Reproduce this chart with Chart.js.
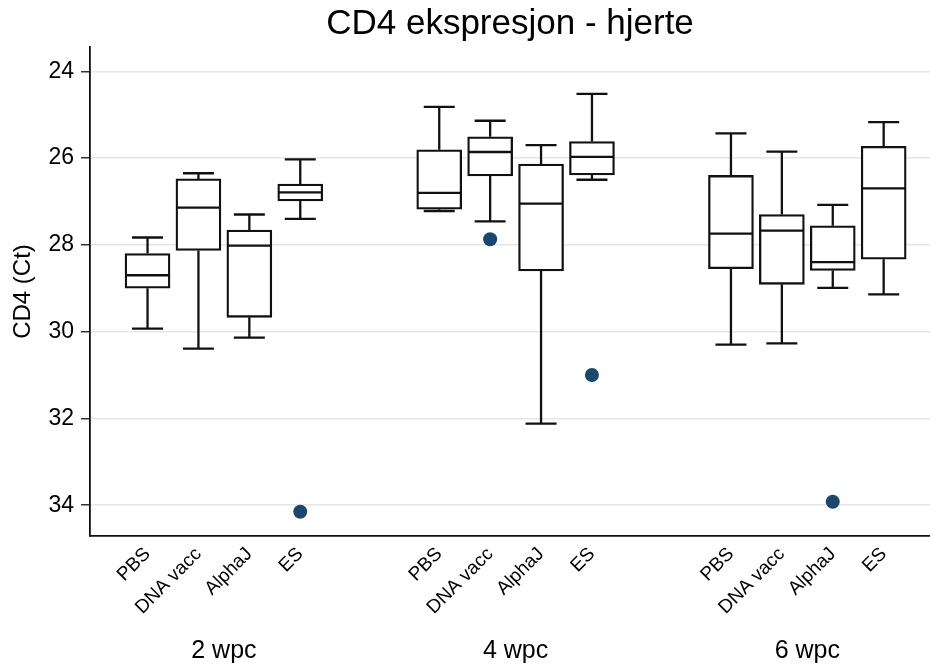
<!DOCTYPE html>
<html>
<head>
<meta charset="utf-8">
<title>CD4 ekspresjon - hjerte</title>
<script src="https://cdn.jsdelivr.net/npm/chart.js@4.4.1/dist/chart.umd.min.js"></script>
<style>
  html, body { margin: 0; padding: 0; background: #fff; }
  canvas { display: block; }
</style>
</head>
<body>
<canvas id="chart" width="930" height="668"></canvas>
<script>
// one box per treatment, listed week by week
const groups = ['2 wpc', '4 wpc', '6 wpc'];
const treatments = ['PBS', 'DNA vacc', 'AlphaJ', 'ES'];

const whiskerLow  = [27.83, 26.35, 27.30, 26.03,  24.82, 25.14, 25.70, 24.52,  25.43, 25.85, 27.08, 25.17];
const q1          = [28.20, 26.48, 27.66, 26.60,  25.81, 25.51, 26.14, 25.62,  26.40, 27.30, 27.56, 25.73];
const median      = [28.70, 27.14, 28.02, 26.79,  26.80, 25.86, 27.05, 25.97,  27.74, 27.67, 28.40, 26.70];
const q3          = [29.00, 28.13, 29.67, 26.99,  27.18, 26.41, 28.60, 26.39,  28.55, 28.91, 28.59, 28.33];
const whiskerHigh = [29.93, 30.39, 30.14, 27.40,  27.22, 27.46, 32.12, 26.50,  30.30, 30.27, 28.99, 29.14];
const outliers    = [[], [], [], [34.15],  [], [27.87], [], [31.00],  [], [], [33.92], []];

const yTicks = [24, 26, 28, 30, 32, 34];

// layout
const GROUP_STEP = 5.73;
const BOX_WIDTH = 45;
const CAP_HALF = 15.5;
const LINE = 2.3;
const INK = '#111';
const FONT = "'Liberation Sans', Arial, Helvetica, sans-serif";

const positions = median.map((_, i) => Math.floor(i / treatments.length) * GROUP_STEP + i % treatments.length);
const groupCenters = groups.map((_, g) => g * GROUP_STEP + (treatments.length - 1) / 2);

const boxData = positions.map((p, i) => ({ x: p, y: [q1[i], q3[i]] }));
const outlierData = [];
outliers.forEach((vals, i) => vals.forEach(v => outlierData.push({ x: positions[i], y: v })));

// whiskers, caps and median lines on top of the bars
const boxWhiskers = {
    id: 'boxWhiskers',
    afterDatasetsDraw(chart) {
        const { ctx, scales: { x, y } } = chart;
        ctx.save();
        ctx.strokeStyle = INK;
        ctx.lineWidth = LINE;
        positions.forEach((p, i) => {
            const cx = x.getPixelForValue(p);
            const half = BOX_WIDTH / 2;
            ctx.beginPath();
            // median
            ctx.moveTo(cx - half + 1, y.getPixelForValue(median[i]));
            ctx.lineTo(cx + half - 1, y.getPixelForValue(median[i]));
            // whisker towards the low value
            ctx.moveTo(cx, y.getPixelForValue(q1[i]));
            ctx.lineTo(cx, y.getPixelForValue(whiskerLow[i]));
            ctx.moveTo(cx - CAP_HALF, y.getPixelForValue(whiskerLow[i]));
            ctx.lineTo(cx + CAP_HALF, y.getPixelForValue(whiskerLow[i]));
            // whisker towards the high value
            ctx.moveTo(cx, y.getPixelForValue(q3[i]));
            ctx.lineTo(cx, y.getPixelForValue(whiskerHigh[i]));
            ctx.moveTo(cx - CAP_HALF, y.getPixelForValue(whiskerHigh[i]));
            ctx.lineTo(cx + CAP_HALF, y.getPixelForValue(whiskerHigh[i]));
            ctx.stroke();
        });
        ctx.restore();
    }
};

const xMin = -1.13;
const xMax = 15.37;

const noSidePadding = scale => {
    scale.paddingLeft = 0;
    scale.paddingRight = 0;
};

new Chart(document.getElementById('chart'), {
    type: 'bar',
    data: {
        datasets: [
            {
                type: 'bar',
                data: boxData,
                backgroundColor: '#fff',
                borderColor: INK,
                borderWidth: LINE,
                borderSkipped: false,
                barThickness: BOX_WIDTH,
                xAxisID: 'x',
                yAxisID: 'y'
            },
            {
                type: 'scatter',
                data: outlierData,
                backgroundColor: '#1a476f',
                borderWidth: 0,
                pointRadius: 7,
                xAxisID: 'x',
                yAxisID: 'y'
            }
        ]
    },
    options: {
        responsive: false,
        animation: false,
        layout: { padding: 0, autoPadding: false },
        plugins: {
            legend: { display: false },
            tooltip: { enabled: false },
            title: {
                display: true,
                text: 'CD4 ekspresjon - hjerte',
                fullSize: false,
                color: '#000',
                font: { family: FONT, size: 35, weight: 'normal' },
                padding: { top: 3, bottom: 2 }
            }
        },
        scales: {
            x: {
                type: 'linear',
                position: 'bottom',
                weight: 0,
                min: xMin,
                max: xMax,
                offset: false,
                grid: { display: false },
                border: { display: true, color: INK, width: 1.8 },
                afterBuildTicks: scale => {
                    scale.ticks = positions.map(v => ({ value: v }));
                },
                afterFit: scale => { scale.height = 95; noSidePadding(scale); },
                ticks: {
                    autoSkip: false,
                    minRotation: 45,
                    maxRotation: 45,
                    padding: -1,
                    color: '#000',
                    font: { family: FONT, size: 19 },
                    callback: (value, index) => treatments[index % treatments.length]
                }
            },
            x2: {
                type: 'linear',
                position: 'bottom',
                weight: 1,
                min: xMin,
                max: xMax,
                offset: false,
                grid: { display: false },
                border: { display: false },
                afterBuildTicks: scale => {
                    scale.ticks = groupCenters.map(v => ({ value: v }));
                },
                afterFit: scale => { scale.height = 37; noSidePadding(scale); },
                ticks: {
                    autoSkip: false,
                    minRotation: 0,
                    maxRotation: 0,
                    padding: -3,
                    color: '#000',
                    font: { family: FONT, size: 25 },
                    callback: (value, index) => groups[index]
                }
            },
            y: {
                type: 'linear',
                reverse: true,
                min: 23.44,
                max: 34.71,
                afterBuildTicks: scale => {
                    scale.ticks = yTicks.map(v => ({ value: v }));
                },
                afterFit: scale => { scale.width = 90; },
                grid: {
                    color: '#e6e6e6',
                    lineWidth: 1.5,
                    tickColor: '#333',
                    tickLength: 9,
                    tickWidth: 1.5
                },
                border: { display: true, color: INK, width: 1.8 },
                ticks: {
                    padding: 7,
                    color: '#000',
                    font: { family: FONT, size: 23 }
                },
                title: {
                    display: true,
                    text: 'CD4 (Ct)',
                    color: '#000',
                    font: { family: FONT, size: 24 },
                    padding: { top: 9, bottom: 0 }
                }
            }
        }
    },
    plugins: [boxWhiskers]
});
</script>
</body>
</html>
